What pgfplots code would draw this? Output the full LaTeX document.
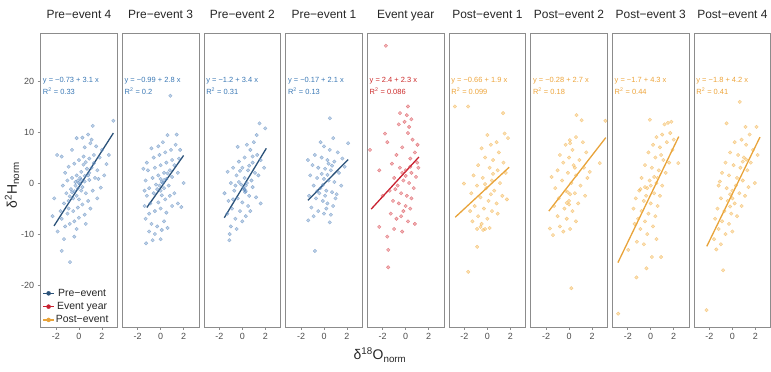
\documentclass[border=0pt]{standalone}
\usepackage{pgfplots}
\pgfplotsset{compat=1.18}
\usepgfplotslibrary{groupplots}
\usepackage{fontspec}
\setmainfont{Liberation Sans}
\definecolor{preline}{HTML}{2B5279}
\definecolor{prept}{HTML}{5F8CC0}
\definecolor{pretext}{HTML}{3A78B5}
\definecolor{evline}{HTML}{C8202F}
\definecolor{evpt}{HTML}{D9474F}
\definecolor{evtext}{HTML}{CC2929}
\definecolor{postline}{HTML}{E8A33A}
\definecolor{postpt}{HTML}{F2B24A}
\definecolor{posttext}{HTML}{EDA43A}
\definecolor{framegray}{HTML}{8C8C8C}
\definecolor{ticktext}{HTML}{4D4D4D}
\tikzset{ann/.style={anchor=west, inner sep=0pt, font=\fontsize{7.5}{9}\selectfont, text=#1}}
\pgfplotsset{
  panel/.style={
    scale only axis, width=76.5bp, height=294bp,
    xmin=-3.33, xmax=3.33, ymin=-28.2, ymax=29.4,
    xtick={-2,0,2}, ytick=\empty,
    xtick pos=bottom, ytick pos=left,
    tick align=outside, major tick length=3bp,
    axis line style={framegray, line width=0.7bp},
    tick style={framegray, line width=0.6bp},
    tick label style={font=\fontsize{9}{10}\selectfont, text=ticktext},
    /pgf/number format/assume math mode=true,
    title style={at={(0.5,1)}, anchor=base, yshift=9bp, font=\fontsize{12}{14}\selectfont, text=black!85},
  },
  pts/.style={only marks, mark=*, mark size=1.75bp, mark options={draw=#1, fill=#1, fill opacity=0.4, draw opacity=0.6, line width=0.4bp}},
  fit/.style={#1, line width=1.3bp, no marks},
}
\begin{document}
\begin{tikzpicture}
\begin{groupplot}[group style={group size=9 by 1, horizontal sep=5.19bp}, panel]
% ---------- Pre-event 4
\nextgroupplot[title={Pre−event 4}, ytick={-20,-10,0,10,20},
  legend style={at={(0.0,0.0)}, anchor=south west, draw=none, fill=none,
    font=\fontsize{10.5}{12}\selectfont, text=black!85, row sep=2.6bp, inner sep=1.5bp,
    nodes={inner sep=1bp}},
  legend image code/.code={\draw[#1,line width=1.4bp] (0bp,0bp) -- (11bp,0bp); \fill[#1] (5.5bp,0bp) circle (2bp);}]
\addplot[pts=prept, forget plot] coordinates {
(3.0,12.2) (1.2,11.2) (0.8,9.5) (0.3,8.9) (-0.2,8.8) (-1.5,5.2) (-1.9,5.5) (-0.6,6.5) (0.5,7) (1.0,7.8)
(1.5,7.2) (2.0,6.5) (1.8,5) (1.3,5.5) (0.9,4.8) (0.4,5.2) (0.0,4.5) (-0.4,3.8) (-0.9,3.2) (-1.2,2.0)
(2.4,3.7) (1.9,-0.9) (1.6,2.5) (1.1,3.0) (0.7,2.8) (0.2,2.2) (-0.2,1.5) (-0.6,1.0) (-1.0,0.5) (-1.4,-0.5)
(1.4,1.0) (0.9,0.6) (0.5,0.3) (0.1,-0.2) (-0.3,-0.5) (-0.7,-1.2) (-1.1,-2.0) (1.2,-1.5) (0.6,-2.0) (0.2,-1.5)
(-0.2,-2.5) (-0.5,-3.0) (-0.9,-3.5) (-1.3,-4.0) (-2.15,-3.0) (-1.6,-5.5) (0.8,-3.5) (0.3,-4.2) (-0.1,-4.8) (-0.5,-5.5)
(-1.0,-6.0) (-1.5,-7.0) (0.5,-6.2) (0.0,-6.8) (-0.4,-7.5) (-0.8,-8.0) (-1.2,-8.5) (-1.86,-9.5) (-1.3,-11.0) (-0.4,-10.5)
(-1.5,-13.3) (-0.78,-15.5) (-0.2,-9.0) (0.6,-8.0) (1.0,-5.0) (1.6,-3.0) (2.2,1.5) (2.6,5.5) (-0.1,0.5) (0.0,0.0)
(-0.3,0.2) (0.1,1.0) (0.3,-0.8) (-0.6,-1.8) (0.4,3.6) (0.8,1.5) (-0.9,-5.0) (1.1,8.5) (-2.3,-6.5)
(0.2,0.6) (-0.1,-1.1) (0.5,1.4) (0.9,2.0) (-0.4,-1.6) (1.3,3.9) (0.6,4.1) (-0.8,-2.6) (0.0,-3.2) (1.7,0.8)};
\addplot[fit=preline, forget plot] coordinates {(-2.17,-8.4) (3.0,9.8)};
\node[ann=pretext] at (axis cs:-3.15,20) {y = −0.73 + 3.1 x};
\node[ann=pretext] at (axis cs:-3.15,18) {R\textsuperscript{2} = 0.33};
\addlegendimage{preline}\addlegendentry{Pre−event}
\addlegendimage{evline}\addlegendentry{Event year}
\addlegendimage{postline}\addlegendentry{Post−event}
% ---------- Pre-event 3
\nextgroupplot[title={Pre−event 3}]
\addplot[pts=prept] coordinates {
(0.85,17.1) (0.6,9.4) (1.4,9.5) (1.7,6.5) (2.0,0.0) (1.8,-4.7) (1.5,-4.0) (-1.27,-11.8) (0.0,-11.0) (-0.5,-10)
(-1.0,-9.5) (-0.8,-8.0) (-0.3,-8.5) (0.3,-7.5) (-1.3,-7.0) (-1.0,-6.0) (-0.5,-5.5) (0.0,-5.0) (0.5,-5.8) (1.0,-4.5)
(-1.4,-4.5) (-0.9,-4.0) (-0.2,-3.8) (0.4,-3.2) (0.8,-2.5) (1.2,-2.0) (-1.2,-2.5) (-0.6,-2.0) (0.0,-1.5) (0.3,-1.0)
(0.7,-0.5) (-1.0,-1.0) (-0.4,-0.3) (0.1,0.2) (0.5,0.8) (1.0,1.2) (1.5,2.0) (-1.3,0.5) (-0.7,1.0) (-0.2,1.5)
(0.3,2.0) (0.8,2.5) (1.2,3.5) (-1.1,2.5) (-0.5,3.0) (0.0,3.5) (0.5,4.0) (1.0,4.5) (-1.2,4.0) (-0.6,5.0)
(-0.1,5.5) (0.4,6.0) (0.9,6.5) (1.3,7.5) (-0.8,6.8) (-0.2,7.2) (0.2,8.0) (-1.4,-1.5) (-1.5,2.8) (0.6,-8.8)
(0.1,-9.2) (-0.7,-11.2) (1.6,4.8) (0.2,0.0) (-0.1,-0.5) (0.0,0.8) (0.3,0.6) (-0.3,-1.2) (0.6,1.9) (0.1,-2.4)};
\addplot[fit=preline] coordinates {(-1.2,-4.8) (2.0,5.4)};
\node[ann=pretext] at (axis cs:-3.15,20) {y = −0.99 + 2.8 x};
\node[ann=pretext] at (axis cs:-3.15,18) {R\textsuperscript{2} = 0.2};
% ---------- Pre-event 2
\nextgroupplot[title={Pre−event 2}]
\addplot[pts=prept] coordinates {
(1.5,11.7) (2.0,10.7) (1.25,9.4) (1.0,8.0) (0.4,7.5) (-0.4,7.1) (0.7,6.5) (1.3,5.5) (0.2,5.0) (-0.3,4.2)
(0.9,4.0) (1.6,4.5) (-1.28,2.2) (-0.8,3.0) (0.0,3.0) (0.5,2.5) (1.1,2.0) (-0.5,1.5) (0.2,1.0) (0.8,0.5)
(-1.0,0.0) (-0.3,0.2) (0.3,-0.5) (0.17,-1.4) (0.1,-1.0) (0.25,-1.8) (-1.55,-2.0) (-0.7,-1.5) (0.6,-2.5) (1.6,-4.0)
(-1.2,-3.5) (-0.4,-3.0) (0.0,-3.8) (0.5,-4.5) (-0.9,-5.0) (-0.2,-5.5) (0.3,-6.5) (-1.3,-6.0) (-0.6,-7.0) (0.0,-7.5)
(-1.0,-8.5) (-0.5,-9.0) (-1.1,-10.0) (-1.13,-11.2) (1.4,1.5) (1.9,3.0) (-0.1,-0.3) (0.4,0.0) (0.9,-0.8) (-0.6,-0.5)
(1.2,-2.8) (0.7,-5.5) (0.2,-1.2) (0.3,-1.6) (0.6,3.4) (-0.2,2.4) (0.9,5.2) (-0.8,-3.2)};
\addplot[fit=preline] coordinates {(-1.57,-6.8) (2.09,6.8)};
\node[ann=pretext] at (axis cs:-3.15,20) {y = −1.2 + 3.4 x};
\node[ann=pretext] at (axis cs:-3.15,18) {R\textsuperscript{2} = 0.31};
% ---------- Pre-event 1
\nextgroupplot[title={Pre−event 1}]
\addplot[pts=prept] coordinates {
(0.51,12.7) (-0.79,-13.3) (0.8,8.8) (2.1,7.8) (-0.3,8.0) (0.0,7.2) (0.5,6.5) (1.2,6.0) (-0.8,5.5) (-0.2,5.0)
(0.3,4.5) (0.9,4.2) (1.6,4.8) (-1.0,3.5) (-0.5,3.0) (0.1,2.8) (0.6,2.5) (1.3,2.0) (1.8,3.2) (-1.2,1.5)
(-0.6,1.0) (0.0,0.8) (0.4,0.5) (0.9,0.2) (1.5,-0.5) (-0.9,-0.5) (-0.3,-1.0) (0.2,-1.5) (0.7,-1.8) (1.1,-2.2)
(-1.3,-2.5) (-0.7,-3.0) (-0.1,-3.5) (0.3,-4.0) (0.8,-4.5) (-1.1,-4.8) (-0.5,-5.5) (0.0,-6.0) (0.5,-7.7) (-1.37,-7.3)
(-0.9,-6.5) (0.2,-5.0) (1.0,-3.0) (-0.4,-2.0) (0.1,-2.5) (-0.2,1.8) (0.4,3.8) (-1.4,4.5) (0.6,-6.2)
(0.3,1.6) (-0.1,-0.4) (0.7,3.4) (-0.6,-1.6)};
\addplot[fit=preline] coordinates {(-1.4,-3.4) (2.1,4.6)};
\node[ann=pretext] at (axis cs:-3.15,20) {y = −0.17 + 2.1 x};
\node[ann=pretext] at (axis cs:-3.15,18) {R\textsuperscript{2} = 0.13};
% ---------- Event year
\nextgroupplot[title={Event year}]
\addplot[pts=evpt] coordinates {
(-1.72,26.9) (0.2,15.0) (-0.5,13.7) (0.1,13.3) (-0.1,12.0) (0.3,11.0) (-1.52,-13.1) (-1.52,-16.5) (-3.1,6.5) (-2.3,2.5)
(-2.3,-8.6) (1.03,7.5) (0.2,9.8) (-1.8,9.7) (-1.6,8.0) (0.6,8.5) (0.8,6.0) (-0.3,7.0) (-0.8,5.5) (0.4,4.8)
(1.0,4.0) (-1.2,3.8) (-0.5,3.0) (0.0,2.5) (0.5,2.0) (0.9,1.2) (-1.0,1.0) (-0.2,0.5) (0.3,0.0) (-0.7,-0.5)
(0.7,-1.0) (-1.4,-1.5) (-0.4,-2.0) (0.1,-2.5) (0.5,-3.0) (-1.1,-3.5) (-0.6,-4.0) (0.0,-4.5) (-0.2,-5.5) (0.4,-5.0)
(-1.3,-6.0) (-0.8,-7.0) (-0.4,-6.5) (0.2,-7.5) (-1.0,-9.0) (-0.3,-9.5) (0.8,-8.0) (-1.6,-10.5) (1.1,3.0) (-2.0,-2.5)
(-0.6,11.5) (0.5,12.5) (0.0,1.4) (-0.3,2.0) (0.4,3.2) (-0.9,-1.2)};
\addplot[fit=evline] coordinates {(-3.0,-5.1) (1.15,5.1)};
\node[ann=evtext] at (axis cs:-3.15,20) {y = 2.4 + 2.3 x};
\node[ann=evtext] at (axis cs:-3.15,18) {R\textsuperscript{2} = 0.086};
% ---------- Post-event 1
\nextgroupplot[title={Post−event 1}]
\addplot[pts=postpt] coordinates {
(-2.83,15.0) (-1.67,15.0) (1.37,13.7) (-1.67,-17.4) (-0.89,-12.5) (-2.04,-0.1) (0.0,9.4) (1.5,9.7) (1.8,8.8) (0.8,8.0)
(0.3,7.5) (-0.5,6.8) (1.0,6.0) (-0.2,5.0) (0.5,4.5) (1.4,4.0) (-0.8,3.5) (0.2,3.0) (0.9,2.5) (1.6,2.0)
(-1.2,1.5) (-0.4,1.0) (0.4,0.5) (1.1,0.0) (-0.9,-0.5) (-0.1,-1.0) (0.6,-1.5) (1.3,-2.5) (-1.4,-2.0) (-0.6,-2.8)
(0.1,-3.5) (0.8,-4.0) (-1.1,-4.5) (-0.3,-5.0) (0.4,-5.5) (-0.8,-6.5) (0.0,-7.0) (0.9,-6.0) (-1.3,-7.5) (-0.5,-8.0)
(-0.37,-9.2) (0.2,-8.8) (-0.9,-9.0) (1.7,-3.2) (0.5,1.8) (-0.2,-0.2) (-1.5,-5.5) (-0.6,-8.6) (-0.2,-9.0) (0.3,-2.2)};
\addplot[fit=postline] coordinates {(-2.8,-6.7) (1.9,3.1)};
\node[ann=posttext] at (axis cs:-3.15,20) {y = −0.66 + 1.9 x};
\node[ann=posttext] at (axis cs:-3.15,18) {R\textsuperscript{2} = 0.099};
% ---------- Post-event 2
\nextgroupplot[title={Post−event 2}]
\addplot[pts=postpt] coordinates {
(0.65,13.3) (1.1,12.3) (3.17,12.2) (0.2,-20.6) (-1.52,1.2) (2.68,3.9) (-1.4,-10.2) (0.07,8.4) (-1.67,-8.9) (0.6,9.0)
(1.2,8.0) (-0.3,7.5) (0.3,6.5) (1.5,6.0) (-0.8,5.5) (0.0,5.0) (0.9,4.5) (-0.5,4.0) (0.4,3.5) (1.3,3.0)
(-1.0,2.5) (-0.1,2.0) (0.6,1.5) (1.6,1.0) (-0.6,0.5) (0.2,0.0) (1.0,-0.5) (-1.2,-1.0) (-0.3,-1.5) (0.5,-2.0)
(1.4,-2.5) (-0.9,-3.0) (0.0,-3.5) (0.8,-4.0) (-1.3,-4.5) (-0.4,-5.0) (0.3,-5.5) (-1.0,-6.5) (-0.2,-7.0) (0.6,-7.5)
(-0.8,-8.5) (0.1,-9.0) (-0.5,-9.5) (1.8,2.2) (-0.1,-1.8) (0.1,-2.2) (0.1,7.8) (0.0,-4.2) (-0.2,-3.9) (0.5,3.0)};
\addplot[fit=postline] coordinates {(-1.76,-5.5) (3.2,8.9)};
\node[ann=posttext] at (axis cs:-3.15,20) {y = −0.28 + 2.7 x};
\node[ann=posttext] at (axis cs:-3.15,18) {R\textsuperscript{2} = 0.18};
% ---------- Post-event 3
\nextgroupplot[title={Post−event 3}]
\addplot[pts=postpt] coordinates {
(-2.83,-25.6) (-1.24,-18.5) (-0.37,-16.7) (0.1,-14.5) (0.9,-14.5) (-1.96,-13.1) (-0.08,12.4) (1.8,12.0) (1.5,11.8) (1.2,11.5)
(1.7,9.8) (2.4,3.9) (1.0,9.5) (0.5,9.0) (1.4,8.0) (0.2,7.5) (0.8,7.0) (1.9,6.5) (-0.2,6.0) (0.4,5.0)
(1.1,4.5) (1.6,4.0) (-0.5,3.5) (0.1,3.0) (0.7,2.5) (1.3,2.0) (-0.8,1.0) (-0.1,0.5) (0.5,0.0) (1.0,-0.5)
(-1.0,-1.5) (-0.3,-1.0) (0.3,-2.0) (0.8,-2.5) (-1.3,-3.0) (-0.6,-3.5) (0.0,-4.0) (0.6,-4.5) (-1.5,-5.0) (-0.8,-5.5)
(-0.2,-6.0) (0.4,-6.5) (-1.1,-7.0) (-0.5,-7.5) (0.2,-8.5) (-1.4,-8.0) (-0.9,-9.0) (-0.3,-10.0) (0.5,-11.0) (-1.2,-11.5)
(-0.6,-12.0) (2.0,8.5) (0.9,5.5) (-0.4,-2.5) (0.6,1.0) (0.0,-0.5) (-0.9,-1.2) (-0.5,-0.8) (0.3,1.2)};
\addplot[fit=postline] coordinates {(-2.86,-15.6) (2.44,9.1)};
\node[ann=posttext] at (axis cs:-3.15,20) {y = −1.7 + 4.3 x};
\node[ann=posttext] at (axis cs:-3.15,18) {R\textsuperscript{2} = 0.44};
% ---------- Post-event 4
\nextgroupplot[title={Post−event 4}]
\addplot[pts=postpt] coordinates {
(0.64,15.9) (-2.25,-24.9) (-0.81,-17.1) (-1.4,-13.0) (-0.51,11.7) (1.14,11.0) (2.1,11.0) (1.95,0.0) (-1.1,0.3) (1.5,9.5)
(0.8,8.5) (0.2,8.0) (1.2,7.5) (1.8,6.5) (-0.2,6.0) (0.5,5.5) (1.0,5.0) (1.6,4.0) (-0.6,4.0) (0.1,3.5)
(0.7,3.0) (1.3,2.5) (-0.9,2.0) (-0.3,1.5) (0.4,1.0) (0.9,0.5) (-1.2,-0.5) (-0.5,-1.0) (0.0,-1.5) (0.6,-2.0)
(1.1,-2.5) (-1.0,-3.0) (-0.4,-3.5) (0.2,-4.0) (0.8,-4.5) (-1.3,-5.0) (-0.7,-5.5) (-0.1,-6.0) (0.4,-6.5) (-1.5,-7.0)
(-0.9,-7.5) (-0.3,-8.0) (-1.2,-9.0) (-0.6,-10.0) (0.0,-9.5) (-1.6,-11.0) (-1.0,-12.0) (2.2,5.5) (-0.2,-2.2) (0.3,-0.5)
(1.4,-0.8) (0.9,4.2) (1.2,4.6) (0.0,-3.0) (-0.2,-4.6)};
\addplot[fit=postline] coordinates {(-2.23,-12.4) (2.4,9.0)};
\node[ann=posttext] at (axis cs:-3.15,20) {y = −1.8 + 4.2 x};
\node[ann=posttext] at (axis cs:-3.15,18) {R\textsuperscript{2} = 0.41};
\end{groupplot}
\node[font=\fontsize{14}{16}\selectfont, text=black!85] at ([xshift=339.3bp, yshift=-28bp]group c1r1.south west) {δ\textsuperscript{18}O\textsubscript{norm}};
\node[font=\fontsize{14}{16}\selectfont, text=black!85, rotate=90] at ([xshift=-28.7bp, yshift=142bp]group c1r1.south west) {δ\textsuperscript{2}H\textsubscript{norm}};
\path[use as bounding box] ([xshift=-40.7bp,yshift=-45bp]group c1r1.south west) rectangle ([xshift=0.3bp,yshift=33bp]group c9r1.north east);
\end{tikzpicture}
\end{document}
